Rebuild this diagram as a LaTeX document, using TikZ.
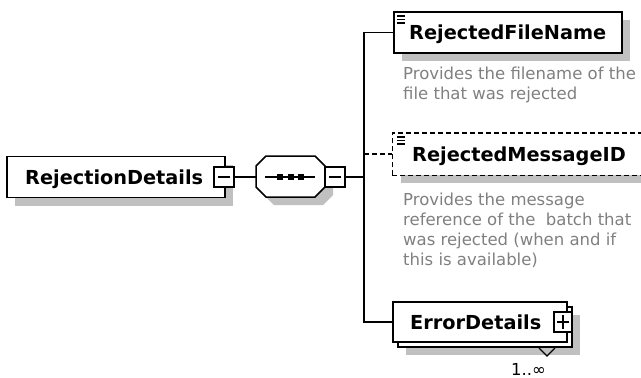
\documentclass[tikz,border=0pt]{standalone}
\usepackage{fontspec}
\setmainfont{DejaVu Sans}
\usetikzlibrary{calc,shadows}
\definecolor{shadowgray}{RGB}{192,192,192}
\definecolor{descgray}{RGB}{128,128,128}
\tikzset{
  elbox/.style={draw=black, line width=1.5pt, fill=white, inner sep=0pt,
    drop shadow={shadow xshift=8pt, shadow yshift=-8pt, fill=shadowgray, opacity=1}},
  plainbox/.style={draw=black, line width=1.5pt, fill=white, inner sep=0pt},
  toggle/.style={draw=black, line width=1.3pt, fill=white, inner sep=0pt, minimum width=20pt, minimum height=20pt},
  conn/.style={draw=black, line width=1.5pt},
  optconn/.style={conn, dash pattern=on 5pt off 3pt},
  lbl/.style={font=\fontsize{19.3}{20}\selectfont\bfseries, anchor=base west, inner sep=0pt},
  desc/.style={font=\fontsize{16.5}{20}\selectfont, text=descgray, anchor=north west, align=left, inner sep=0pt},
  icon/.style={line width=1.2pt},
}
\begin{document}
\begin{tikzpicture}[x=1pt,y=-1pt]
\useasboundingbox (0,0) rectangle (641,378);
\clip (0,0) rectangle (641,378);

% root element
\node[elbox, minimum width=218pt, minimum height=41pt] (root) at (116,177) {};
\node[lbl] (rootlbl) at (25,184) {RejectionDetails};
\node[toggle] (minus1) at (224,177) {};
\draw[line width=1.3pt] ($(minus1.center)+(-6,0)$) -- ($(minus1.center)+(6,0)$);

% sequence compositor
\fill[shadowgray] (264,174) -- (274,164) -- (323,164) -- (333,174) -- (333,195) -- (323,205) -- (274,205) -- (264,195) -- cycle;
\node[minimum width=69pt, minimum height=41pt, inner sep=0pt] (seq) at (290.5,177) {};
\draw[line width=1.5pt, fill=white] (256,166) -- (266,156) -- (315,156) -- (325,166) -- (325,187) -- (315,197) -- (266,197) -- (256,187) -- cycle;
\draw[line width=1.3pt] (265,177) -- (315,177);
\foreach \x in {280,290.5,301} \fill (\x-3,174) rectangle (\x+3,180);
\node[toggle] (minus2) at (335,177) {};
\draw[line width=1.3pt] ($(minus2.center)+(-6,0)$) -- ($(minus2.center)+(6,0)$);

\draw[conn] (minus1.east) -- (seq.west);
\coordinate (bar) at (364,177);
\draw[conn] (minus2.east) -- (bar);

% children
\node[elbox, minimum width=228pt, minimum height=41pt] (fname) at (508,32.5) {};
\node[lbl] (fnamelbl) at (409,39.5) {RejectedFileName};
\draw[icon] (397,16) -- (405,16) (397,19.5) -- (405,19.5) (397,23) -- (405,23);
\node[desc] (d1) at (403,67) {Provides the filename of the\\file that was rejected};

\node[elbox, draw=none, minimum width=257pt, minimum height=41pt] (msg) at (521.5,154) {};
\draw[optconn] (msg.south west) -- (msg.north west) -- (msg.north east) (msg.south west) -- (msg.south east);
\node[lbl] (msglbl) at (412,161) {RejectedMessageID};
\draw[icon] (397,137) -- (405,137) (397,140.5) -- (405,140.5) (397,144) -- (405,144);
\node[desc] (d2) at (403,193) {Provides the message\\reference of the\ \ batch that\\was rejected (when and if\\this is available)};

\node[elbox, minimum width=174pt, minimum height=40pt] (errback) at (485,327) {};
\node[plainbox, minimum width=174pt, minimum height=40pt] (err) at (480,322) {};
\node[lbl] (errlbl) at (410,329) {ErrorDetails};
\node[toggle, minimum width=18pt] (plus) at (563,322) {};
\draw[line width=1.3pt] ($(plus.center)+(-6,0)$) -- ($(plus.center)+(6,0)$) ($(plus.center)+(0,-7)$) -- ($(plus.center)+(0,7)$);
\draw[line width=1.1pt] (539,348) -- (547,356) -- (555,348);
\node[font=\fontsize{16.5}{16.5}\selectfont, anchor=base west, inner sep=0pt] (mult) at (511,375) {1..∞};

% connectors from the sequence bar
\draw[conn] (fname.west) -| (bar) |- (err.west);
\draw[optconn] (bar |- msg.west) -- (msg.west);
\end{tikzpicture}
\end{document}
